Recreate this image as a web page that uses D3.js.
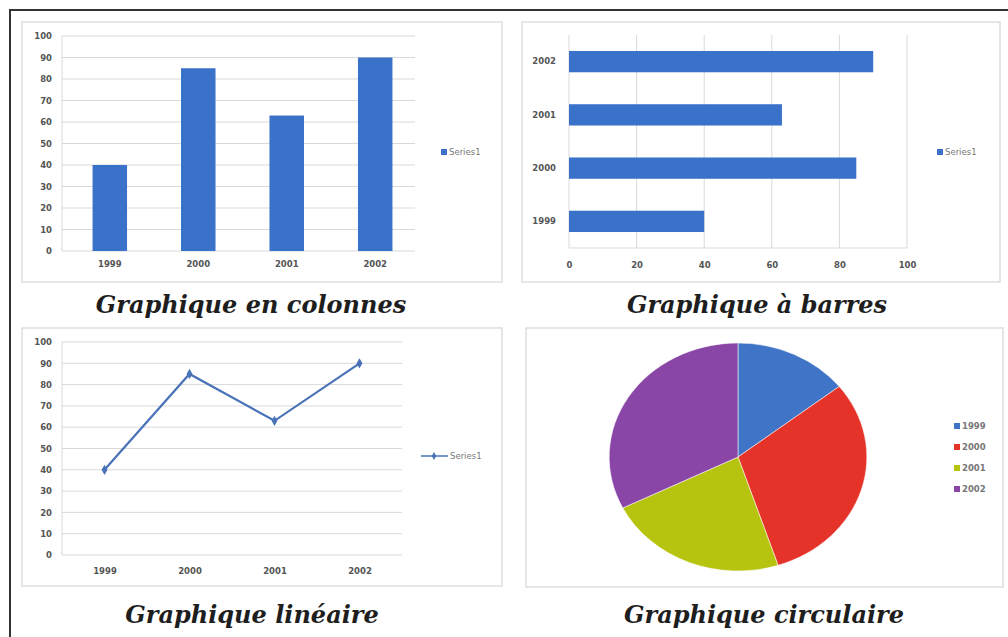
<!DOCTYPE html>
<html>
<head>
<meta charset="utf-8">
<script src="https://cdn.jsdelivr.net/npm/d3@7"></script>
<style>
  html, body { margin: 0; padding: 0; background: #fff; }
  svg { display: block; }
  .tick text { font-family: "DejaVu Sans", sans-serif; font-weight: bold; font-size: 8.5px; fill: #555; }
  .title { font-family: "DejaVu Serif", serif; font-weight: bold; font-style: italic; font-size: 24px; fill: #1e1e1e; }
  .legend { font-family: "DejaVu Sans", sans-serif; font-size: 8.5px; fill: #777; }
</style>
</head>
<body>
<svg id="chart" width="1008" height="637"></svg>
<script>
// Data
const years = ["1999", "2000", "2001", "2002"];
const values = [40, 85, 63, 90];
const seriesName = "Series1";
const valueTicks = [0, 10, 20, 30, 40, 50, 60, 70, 80, 90, 100];
const barTicks = [0, 20, 40, 60, 80, 100];
const pieColors = ["#3f74c6", "#e6332a", "#b7c40f", "#8a46a6"];
const titles = ["Graphique en colonnes", "Graphique à barres", "Graphique linéaire", "Graphique circulaire"];

const barColor = "#3a71c9";
const lineColor = "#4a72b8";
const gridColor = "#d9d9d9";

const svg = d3.select("#chart");

// Outer frame (top and left edges)
svg.append("line").attr("x1", 9).attr("y1", 10).attr("x2", 1008).attr("y2", 10)
  .attr("stroke", "#333").attr("stroke-width", 2);
svg.append("line").attr("x1", 10).attr("y1", 9).attr("x2", 10).attr("y2", 637)
  .attr("stroke", "#333").attr("stroke-width", 2);

// Chart panels
function panel(x, y, w, h) {
  svg.append("rect").attr("x", x).attr("y", y).attr("width", w).attr("height", h)
    .attr("fill", "#fff").attr("stroke", "#dedede").attr("stroke-width", 1.5);
}
panel(22, 22, 480, 260);
panel(522, 22, 478, 260);
panel(22, 328, 480, 258);
panel(526, 328, 477, 259);

function title(text, cx, cy) {
  svg.append("text").attr("class", "title").attr("x", cx).attr("y", cy)
    .attr("text-anchor", "middle").text(text);
}

function cleanAxis(g) {
  g.select(".domain").remove();
  g.selectAll(".tick line").remove();
}

// ---- Column chart ----
{
  const x = d3.scaleBand().domain(years).range([66, 419]).paddingInner(0.61).paddingOuter(0.3);
  const y = d3.scaleLinear().domain([0, 100]).range([251, 36]);
  const g = svg.append("g");
  g.selectAll(".grid").data(valueTicks).join("line")
    .attr("x1", 62).attr("x2", 415).attr("y1", d => y(d)).attr("y2", d => y(d))
    .attr("stroke", gridColor).attr("stroke-width", 1);
  g.append("line").attr("x1", 62).attr("x2", 62).attr("y1", y(100)).attr("y2", y(0)).attr("stroke", gridColor);
  g.selectAll(".bar").data(values).join("rect")
    .attr("x", (d, i) => x(years[i])).attr("width", x.bandwidth())
    .attr("y", d => y(d)).attr("height", d => y(0) - y(d)).attr("fill", barColor);
  g.append("g").attr("transform", "translate(52,0)")
    .call(d3.axisLeft(y).tickValues(valueTicks).tickSize(0).tickPadding(0)).call(cleanAxis);
  g.append("g").attr("transform", `translate(0,${y(0) + 10})`)
    .call(d3.axisBottom(x).tickSize(0).tickPadding(0)).call(cleanAxis);
  g.append("rect").attr("x", 441).attr("y", 149).attr("width", 6).attr("height", 6).attr("fill", barColor);
  g.append("text").attr("class", "legend").attr("x", 449).attr("y", 155).text(seriesName);
  title(titles[0], 251, 313);
}

// ---- Horizontal bar chart ----
{
  const x = d3.scaleLinear().domain([0, 100]).range([569, 907]);
  const y = d3.scaleBand().domain(years.slice().reverse()).range([35, 248]).paddingInner(0.6).paddingOuter(0.3);
  const g = svg.append("g");
  g.selectAll(".grid").data(barTicks).join("line")
    .attr("x1", d => x(d)).attr("x2", d => x(d)).attr("y1", 35).attr("y2", 248)
    .attr("stroke", gridColor).attr("stroke-width", 1);
  g.append("line").attr("x1", x(0)).attr("x2", x(100)).attr("y1", 248).attr("y2", 248).attr("stroke", gridColor);
  g.selectAll(".bar").data(values).join("rect")
    .attr("y", (d, i) => y(years[i])).attr("height", y.bandwidth())
    .attr("x", x(0)).attr("width", d => x(d) - x(0)).attr("fill", barColor);
  g.append("g").attr("transform", "translate(556,0)")
    .call(d3.axisLeft(y).tickSize(0).tickPadding(0)).call(cleanAxis);
  g.append("g").attr("transform", "translate(0,262)")
    .call(d3.axisBottom(x).tickValues(barTicks).tickSize(0).tickPadding(0)).call(cleanAxis);
  g.append("rect").attr("x", 937).attr("y", 149).attr("width", 6).attr("height", 6).attr("fill", barColor);
  g.append("text").attr("class", "legend").attr("x", 945).attr("y", 155).text(seriesName);
  title(titles[1], 757, 313);
}

// ---- Line chart ----
{
  const x = d3.scalePoint().domain(years).range([62, 402]).padding(0.5);
  const y = d3.scaleLinear().domain([0, 100]).range([555, 342]);
  const g = svg.append("g");
  g.selectAll(".grid").data(valueTicks).join("line")
    .attr("x1", 62).attr("x2", 402).attr("y1", d => y(d)).attr("y2", d => y(d))
    .attr("stroke", gridColor).attr("stroke-width", 1);
  g.append("line").attr("x1", 62).attr("x2", 62).attr("y1", y(100)).attr("y2", y(0)).attr("stroke", gridColor);
  const line = d3.line().x((d, i) => x(years[i])).y(d => y(d));
  g.append("path").datum(values).attr("d", line)
    .attr("fill", "none").attr("stroke", lineColor).attr("stroke-width", 2.2);
  g.selectAll(".pt").data(values).join("path")
    .attr("d", d3.symbol(d3.symbolDiamond, 30))
    .attr("transform", (d, i) => `translate(${x(years[i])},${y(d)})`)
    .attr("fill", lineColor);
  g.append("g").attr("transform", "translate(52,0)")
    .call(d3.axisLeft(y).tickValues(valueTicks).tickSize(0).tickPadding(0)).call(cleanAxis);
  g.append("g").attr("transform", `translate(0,${y(0) + 13})`)
    .call(d3.axisBottom(x).tickSize(0).tickPadding(0)).call(cleanAxis);
  g.append("line").attr("x1", 421).attr("x2", 448).attr("y1", 456).attr("y2", 456)
    .attr("stroke", lineColor).attr("stroke-width", 1.5);
  g.append("path").attr("d", d3.symbol(d3.symbolDiamond, 18))
    .attr("transform", "translate(434,456)").attr("fill", lineColor);
  g.append("text").attr("class", "legend").attr("x", 450).attr("y", 459).text(seriesName);
  title(titles[2], 252, 623);
}

// ---- Pie chart ----
{
  const pie = d3.pie().sort(null).value(d => d);
  const arc = d3.arc().innerRadius(0).outerRadius(114);
  const g = svg.append("g").attr("transform", "translate(738,457) scale(1.13,1)");
  g.selectAll("path").data(pie(values)).join("path")
    .attr("d", arc).attr("fill", (d, i) => pieColors[i])
    .attr("stroke", "#fff").attr("stroke-width", 0.5);
  const lg = svg.append("g");
  years.forEach((yr, i) => {
    lg.append("rect").attr("x", 954).attr("y", 423 + i * 21).attr("width", 6).attr("height", 6).attr("fill", pieColors[i]);
    lg.append("text").attr("class", "legend").attr("x", 962).attr("y", 429 + i * 21)
      .style("font-weight", "bold").text(yr);
  });
  title(titles[3], 764, 623);
}
</script>
</body>
</html>
